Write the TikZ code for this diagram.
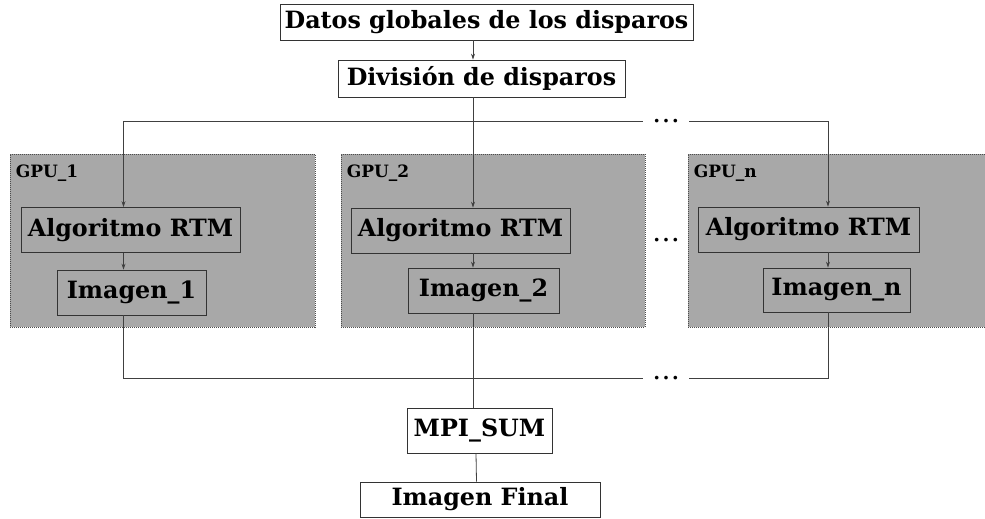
\documentclass[tikz,border=0pt]{standalone}
\usepackage{fontspec}
\setmainfont{DejaVu Serif}
\usetikzlibrary{arrows.meta}

\begin{document}
\begin{tikzpicture}[x=1pt, y=-1pt, >={Stealth[length=6pt,width=4pt]}]
    \tikzstyle{caja} = [shape=rectangle, draw=black!80, line width=0.8pt, inner sep=0pt,
                        font=\fontsize{23.8}{28}\selectfont\bfseries]
    \tikzstyle{gpu}  = [shape=rectangle, draw=black!70, fill=black!34, line width=0.8pt,
                        dash pattern=on 1pt off 1pt, minimum height=173pt]
    \tikzstyle{etiq} = [anchor=north west, inner sep=0pt, font=\fontsize{17}{19}\selectfont\bfseries]
    \tikzstyle{puntos} = [minimum width=46pt, inner sep=0pt, font=\fontsize{28}{30}\selectfont]
    \tikzstyle{linea} = [draw=black!75, line width=0.8pt]
    \useasboundingbox (0,0) rectangle (985,519);

    % contenedores de cada GPU
    \node (gpu1) [gpu, minimum width=305pt] at (162.5,240.5) {};
    \node (gpu2) [gpu, minimum width=304pt] at (493,240.5) {};
    \node (gpun) [gpu, minimum width=307pt] at (841.5,240.5) {};
    \node (lab1) [etiq] at ([shift={(6,11)}]gpu1.north west) {GPU\_1};
    \node (lab2) [etiq] at ([shift={(6,11)}]gpu2.north west) {GPU\_2};
    \node (labn) [etiq] at ([shift={(6,11)}]gpun.north west) {GPU\_n};

    \node (datos)    [caja, minimum width=413pt, minimum height=36pt] at (486.5,22)   {Datos globales de los disparos};
    \node (division) [caja, minimum width=287pt, minimum height=37pt] at (481.5,78.5) {División de disparos};

    \node (alg1) [caja, minimum width=219pt, minimum height=45pt] at (130.5,230)   {Algoritmo RTM};
    \node (alg2) [caja, minimum width=219pt, minimum height=45pt] at (460.5,230.5) {Algoritmo RTM};
    \node (algn) [caja, minimum width=221pt, minimum height=45pt] at (808.5,229.5) {Algoritmo RTM};
    \node (img1) [caja, minimum width=149pt, minimum height=45pt] at (131.5,292.5) {Imagen\_1};
    \node (img2) [caja, minimum width=151pt, minimum height=45pt] at (483.5,290.5) {Imagen\_2};
    \node (imgn) [caja, minimum width=147pt, minimum height=44pt] at (836.5,290)   {Imagen\_n};

    \node (mpi)   [caja, minimum width=145pt, minimum height=45pt] at (479.5,430.5) {MPI\_SUM};
    \node (final) [caja, minimum width=240pt, minimum height=35pt] at (480,499.5)   {Imagen Final};

    % puntos suspensivos
    \node (dtop) [puntos] at (666,121) {…};
    \node (dmid) [puntos] at (666,240) {…};
    \node (dbot) [puntos] at (666,378) {…};

    \coordinate (t1) at (123.5,121);
    \coordinate (tn) at (828,121);
    \coordinate (b1) at (123.5,378);
    \coordinate (bn) at (828,378);
    \coordinate (c2) at (473,0);

    \draw [linea, ->] (datos.south -| c2) -- (division.north -| c2);
    \draw [linea, ->] (division.south -| c2) -- (alg2.north -| c2);
    \draw [linea, ->] (dtop.west) -- (t1) -- (alg1.north -| t1);
    \draw [linea, ->] (dtop.east) -- (tn) -- (algn.north -| tn);

    \draw [linea, ->] (alg1.south -| t1) -- (img1.north -| t1);
    \draw [linea, ->] (alg2.south -| c2) -- (img2.north -| c2);
    \draw [linea, ->] (algn.south -| tn) -- (imgn.north -| tn);

    \draw [linea] (img1.south -| b1) -- (b1) -- (dbot.west);
    \draw [linea] (imgn.south -| bn) -- (bn) -- (dbot.east);
    \draw [linea] (img2.south -| c2) -- (mpi.north -| c2);
    \draw [linea] ([xshift=-3.5pt]mpi.south) -- ([xshift=-3.5pt]final.north);
\end{tikzpicture}
\end{document}
